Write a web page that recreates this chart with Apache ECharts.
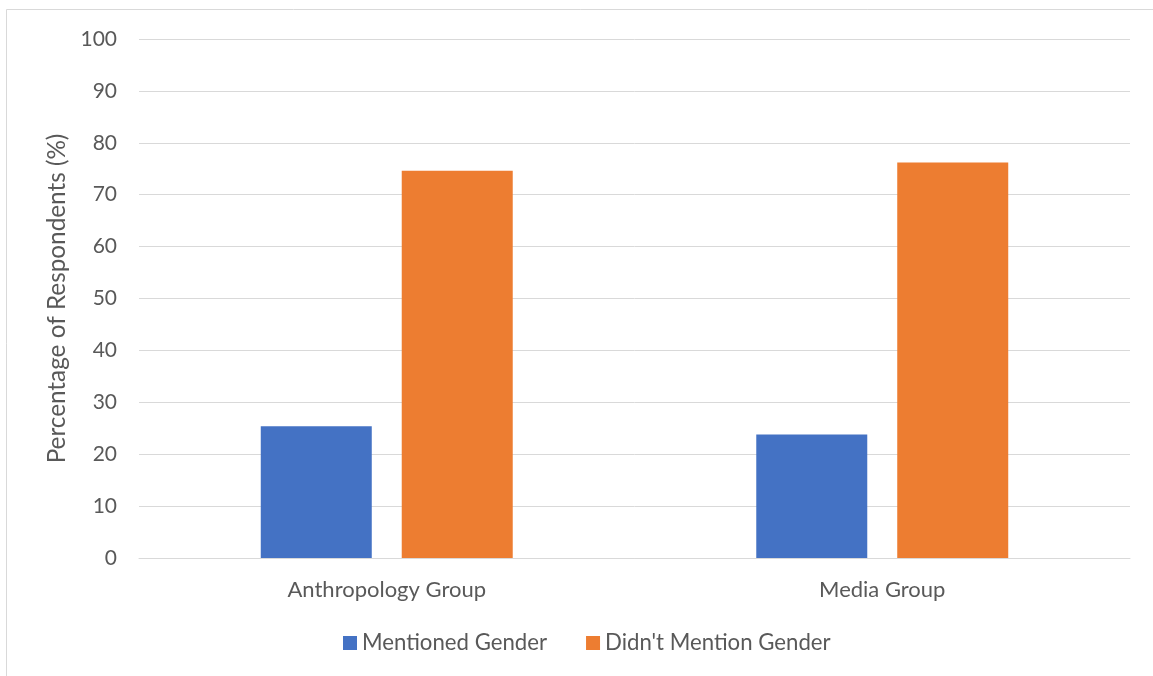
<!DOCTYPE html>
<html>
<head>
<meta charset="utf-8">
<script src="https://cdn.jsdelivr.net/npm/echarts@6/dist/echarts.min.js"></script>
<style>
html,body{margin:0;padding:0;background:#fff;}
#chart{width:1153px;height:676px;}
</style>
</head>
<body>
<div id="chart"></div>
<script>
const categories = ["Anthropology Group", "Media Group"];
const mentionedGender = [25.4, 23.8];
const didntMentionGender = [74.6, 76.2];
const seriesNames = ["Mentioned Gender", "Didn't Mention Gender"];
const yAxisName = "Percentage of Respondents (%)";

const FONT = "Lato";
const chart = echarts.init(document.getElementById('chart'));
chart.setOption({
  backgroundColor: '#fff',
  animation: false,
  textStyle: { fontFamily: FONT },
  graphic: [{
    type: 'rect',
    shape: { x: 6.5, y: 9.5, width: 1160, height: 680 },
    style: { fill: 'none', stroke: '#d9d9d9', lineWidth: 1 },
    silent: true
  }],
  grid: { left: 139, right: 23, top: 39, bottom: 118 },
  legend: {
    data: seriesNames,
    left: 338,
    top: 627,
    itemWidth: 14,
    itemHeight: 14,
    itemGap: 39,
    icon: 'rect',
    textStyle: { fontFamily: FONT, fontSize: 22.2, color: '#595959' }
  },
  xAxis: {
    type: 'category',
    data: categories,
    axisLine: { show: true, lineStyle: { color: '#d9d9d9', width: 1 } },
    axisTick: { show: false },
    axisLabel: { fontFamily: FONT, fontSize: 22, color: '#595959', margin: 21 }
  },
  yAxis: {
    type: 'value',
    min: 0, max: 100, interval: 10,
    name: yAxisName,
    nameLocation: 'middle',
    nameRotate: 90,
    nameGap: 65.5,
    nameTextStyle: { fontFamily: FONT, fontSize: 24.3, color: '#595959' },
    axisLine: { show: false },
    axisTick: { show: false },
    axisLabel: { fontFamily: FONT, fontSize: 21, color: '#595959', margin: 22 },
    splitLine: { lineStyle: { color: '#d9d9d9', width: 1 } }
  },
  series: [
    { name: seriesNames[0], type: 'bar', data: mentionedGender, barWidth: 111, barGap: '27%',
      itemStyle: { color: '#4472c4' } },
    { name: seriesNames[1], type: 'bar', data: didntMentionGender, barWidth: 111,
      itemStyle: { color: '#ed7d31' } }
  ]
});
</script>
</body>
</html>
